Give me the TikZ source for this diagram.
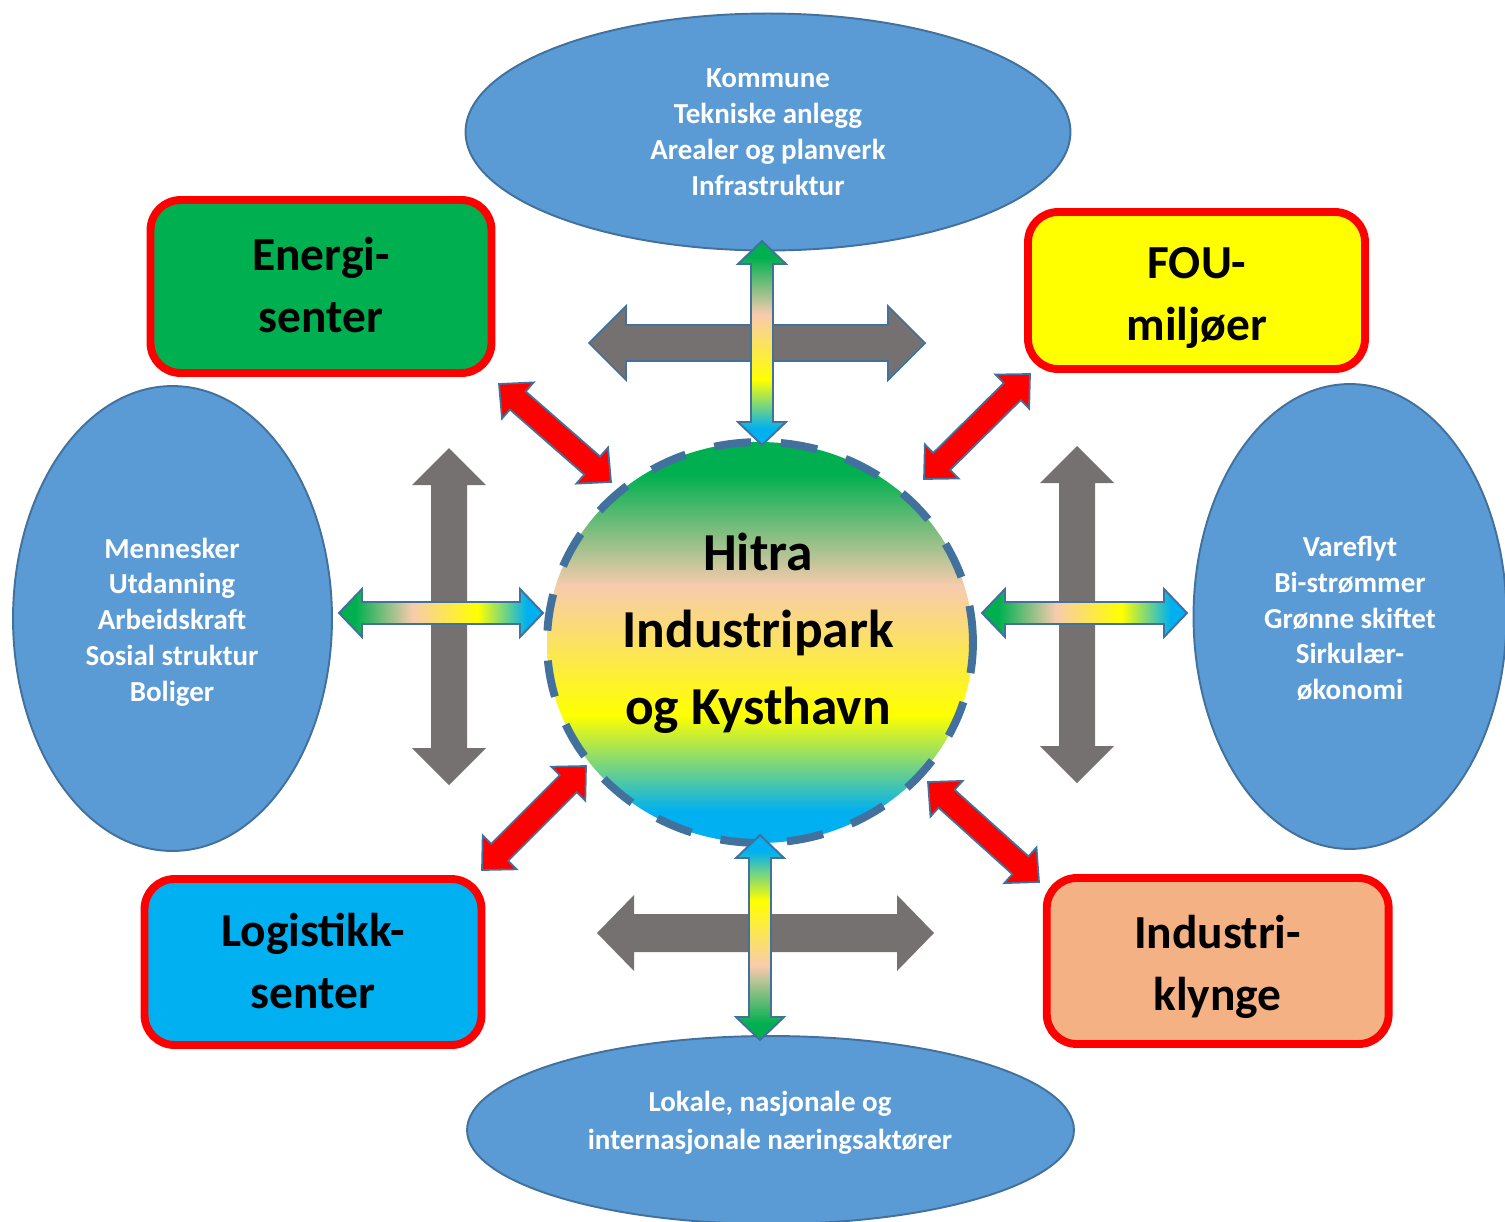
\documentclass[tikz,border=0pt]{standalone}
\usepackage{fontspec}
\setmainfont{Carlito}
\usetikzlibrary{shapes.geometric,calc}

\definecolor{ovalfill}{HTML}{5B9BD5}
\definecolor{ovalline}{HTML}{41719C}
\definecolor{boxred}{HTML}{FF0000}
\definecolor{energigreen}{HTML}{00B050}
\definecolor{fouyellow}{HTML}{FFFF00}
\definecolor{logblue}{HTML}{00B0F0}
\definecolor{indpeach}{HTML}{F4B183}
\definecolor{arrowgrey}{HTML}{767171}
\definecolor{gradgreen}{HTML}{00B050}
\definecolor{gradpeach}{HTML}{F8CBAD}
\definecolor{gradyellow}{HTML}{FFFF00}
\definecolor{gradcyan}{HTML}{00B0F0}

\pgfdeclareverticalshading{hubgrad}{100bp}{color(0bp)=(gradcyan); color(29bp)=(gradcyan); color(41bp)=(gradyellow); color(57bp)=(gradpeach); color(71bp)=(gradgreen); color(100bp)=(gradgreen)}

% double block arrow: style, from, to, half shaft, half head, head length (px)
\newcommand{\blockarrow}[6]{%
  \path[#1] (#2)
    -- ($(#2)!#6*0.02cm!(#3)!#5*0.02cm!90:(#3)$)
    -- ($(#2)!#6*0.02cm!(#3)!#4*0.02cm!90:(#3)$)
    -- ($(#3)!#6*0.02cm!(#2)!#4*0.02cm!-90:(#2)$)
    -- ($(#3)!#6*0.02cm!(#2)!#5*0.02cm!-90:(#2)$)
    -- (#3)
    -- ($(#3)!#6*0.02cm!(#2)!#5*0.02cm!90:(#2)$)
    -- ($(#3)!#6*0.02cm!(#2)!#4*0.02cm!90:(#2)$)
    -- ($(#2)!#6*0.02cm!(#3)!#4*0.02cm!-90:(#3)$)
    -- ($(#2)!#6*0.02cm!(#3)!#5*0.02cm!-90:(#3)$)
    -- cycle;}

\begin{document}
\begin{tikzpicture}[line join=miter,x=0.02cm,y=-0.02cm,
    oval/.style={ellipse,draw=ovalline,line width=1.1pt,fill=ovalfill,inner sep=0pt},
    ovaltext/.style={text=white,align=center,font=\bfseries\fontsize{16.5}{20.4}\selectfont},
    topic/.style={rectangle,rounded corners=0.6cm,draw=boxred,line width=4.5pt},
    topictext/.style={align=center,font=\bfseries\fontsize{27}{35.2}\selectfont},
    hub/.style={ellipse,shade,shading=hubgrad,draw=ovalline,line width=4.5pt,dash pattern=on 21pt off 17pt,inner sep=0pt},
    hubtext/.style={align=center,font=\bfseries\fontsize{30.4}{43.7}\selectfont},
    greyarrow/.style={fill=arrowgrey},
    flowarrow/.style={shade,shading=hubgrad,draw=ovalline,line width=1.1pt},
    redarrow/.style={fill=boxred,draw=ovalline,line width=1pt}]
  \useasboundingbox (0,0) rectangle (1505,1221);

  \node[oval,minimum width=12.1cm,minimum height=4.74cm,ovaltext] (kommune) at (768,132) {Kommune\\Tekniske anlegg\\Arealer og planverk\\Infrastruktur};
  \node[oval,minimum width=6.38cm,minimum height=9.3cm] (mennesker) at (172.5,618.5) {};
  \node[ovaltext] (mennesker-text) at (172,622) {Mennesker\\Utdanning\\Arbeidskraft\\Sosial struktur\\Boliger};
  \node[oval,minimum width=6.26cm,minimum height=9.3cm] (vareflyt) at (1350,616.5) {};
  \node[ovaltext] (vareflyt-text) at (1350,618.5) {Vareflyt\\Bi-strømmer\\Grønne skiftet\\Sirkulær-\\økonomi};
  \node[oval,minimum width=12.14cm,minimum height=3.76cm] (aktorer) at (770.5,1130) {};
  \node[ovaltext,font=\bfseries\fontsize{16.5}{21.5}\selectfont] (aktorer-text) at (770,1122.5) {Lokale, nasjonale og\\internasjonale næringsaktører};

  \node[topic,fill=energigreen,minimum width=6.82cm,minimum height=3.46cm] (energi) at (321,286.5) {};
  \node[topictext] (energi-text) at (321,285) {Energi-\\senter};
  \node[topic,fill=fouyellow,minimum width=6.74cm,minimum height=3.14cm] (fou) at (1196.5,290.5) {};
  \node[topictext] (fou-text) at (1197,298) {FOU-\\miljøer};
  \node[topic,fill=logblue,minimum width=6.74cm,minimum height=3.32cm] (logistikk) at (313,962) {};
  \node[topictext] (logistikk-text) at (313,961) {Logistikk-\\senter};
  \node[topic,fill=indpeach,minimum width=6.84cm,minimum height=3.32cm] (industri) at (1217.7,961) {};
  \node[topictext] (industri-text) at (1217.5,966.5) {Industri-\\klynge};

  \node[hub,minimum width=8.52cm,minimum height=8.02cm] (park) at (760,642.5) {};
  \node[hubtext] (park-text) at (758,633.5) {Hitra\\Industripark\\og Kysthavn};

  % grey arrows
  \coordinate (gt-w) at (589,343);  \coordinate (gt-e) at (925,343);
  \coordinate (gl-n) at (449,448);  \coordinate (gl-s) at (449,785);
  \coordinate (gr-n) at (1077,446); \coordinate (gr-s) at (1077,783);
  \coordinate (gb-w) at (597,933);  \coordinate (gb-e) at (934,933);
  \blockarrow{greyarrow,draw=ovalline,line width=1pt}{gt-w}{gt-e}{18}{37}{37}
  \blockarrow{greyarrow}{gl-n}{gl-s}{18}{37}{37}
  \blockarrow{greyarrow}{gr-n}{gr-s}{18}{37}{37}
  \blockarrow{greyarrow}{gb-w}{gb-e}{19}{38}{37}

  % gradient arrows
  \coordinate (ft-n) at (762,241);  \coordinate (ft-s) at (762,445);
  \coordinate (fl-w) at (339,613);  \coordinate (fl-e) at (543,613);
  \coordinate (fr-w) at (982,613);  \coordinate (fr-e) at (1187,613);
  \coordinate (fb-n) at (760,835);  \coordinate (fb-s) at (760,1040);
  \blockarrow{flowarrow,shading angle=0}{ft-n}{ft-s}{11}{24}{23}
  \blockarrow{flowarrow,shading angle=90}{fl-w}{fl-e}{11}{24}{23}
  \blockarrow{flowarrow,shading angle=90}{fr-w}{fr-e}{11}{24}{23}
  \blockarrow{flowarrow,shading angle=180}{fb-n}{fb-s}{11}{24}{23}

  % red arrows
  \coordinate (re-a) at (499,384);  \coordinate (re-b) at (611,482);
  \coordinate (rf-a) at (1030,374); \coordinate (rf-b) at (924,479);
  \coordinate (rl-a) at (586,766);  \coordinate (rl-b) at (482,870);
  \coordinate (ri-a) at (928,782);  \coordinate (ri-b) at (1039,882);
  \blockarrow{redarrow}{re-a}{re-b}{12}{24}{25}
  \blockarrow{redarrow}{rf-a}{rf-b}{12}{24}{25}
  \blockarrow{redarrow}{rl-a}{rl-b}{12}{24}{25}
  \blockarrow{redarrow}{ri-a}{ri-b}{12}{24}{25}
\end{tikzpicture}
\end{document}
